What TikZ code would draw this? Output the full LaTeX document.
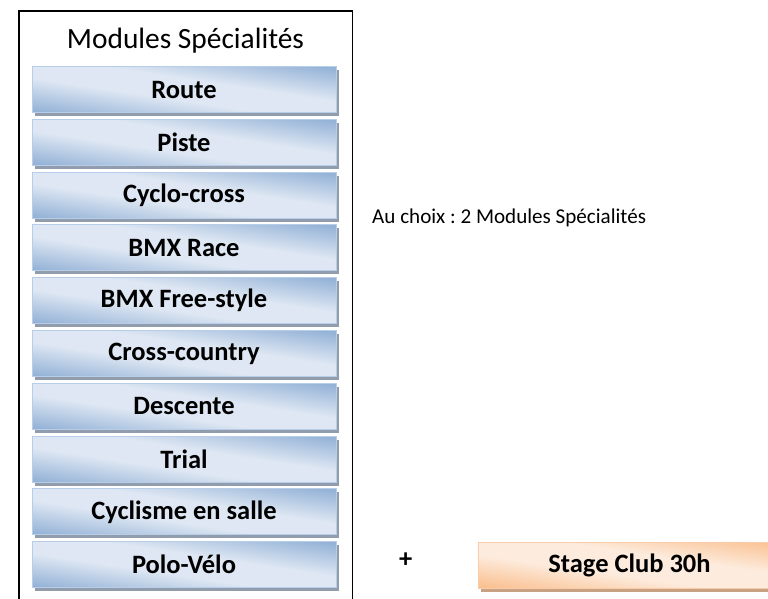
\documentclass[tikz,border=0pt]{standalone}
\usepackage{fontspec}
\setmainfont{Carlito}
\frenchspacing
\usetikzlibrary{shadows}
\definecolor{bdark}{RGB}{149,179,215}
\definecolor{blight}{RGB}{222,231,243}
\definecolor{bline}{RGB}{184,205,232}
\definecolor{bshadow}{RGB}{145,156,172}
\definecolor{odark}{RGB}{250,192,144}
\definecolor{olight}{RGB}{253,236,222}
\definecolor{oline}{RGB}{250,205,170}
\definecolor{oshadow}{RGB}{200,160,130}
\pgfdeclareverticalshading{bluediag}{100bp}{color(0bp)=(bdark); color(23bp)=(bdark); color(43bp)=(blight); color(57bp)=(blight); color(77bp)=(bdark); color(100bp)=(bdark)}
\pgfdeclareverticalshading{orangediag}{100bp}{color(0bp)=(odark); color(23bp)=(odark); color(43bp)=(olight); color(57bp)=(olight); color(77bp)=(odark); color(100bp)=(odark)}
\tikzset{
  modbox/.style={draw=bline, line width=1pt, minimum width=304pt, minimum height=46pt,
    inner sep=0pt, shading=bluediag, shading angle=-8.6,
    drop shadow={shadow xshift=3pt, shadow yshift=-3.5pt, fill=bshadow, opacity=1},
    font=\fontsize{26.5}{30}\selectfont\bfseries},
  stagebox/.style={draw=oline, line width=1pt, minimum width=320pt, minimum height=46pt,
    inner sep=0pt, shading=orangediag, shading angle=-8.2,
    drop shadow={shadow xshift=3pt, shadow yshift=-3.5pt, fill=oshadow, opacity=1}},
  lbl/.style={font=\fontsize{26.5}{30}\selectfont\bfseries}
}
\begin{document}
\begin{tikzpicture}[x=1pt,y=-1pt]
\useasboundingbox (0,0) rectangle (768,598);
\clip (0,0) rectangle (768,598);
\fill[white] (0,0) rectangle (768,598);
\draw[line width=1.2pt] (19,610) -- (19,11) -- (352.5,11) -- (352.5,610);
\node[font=\fontsize{29.4}{32}\selectfont, anchor=base] (title) at (185.5,48.3) {Modules Spécialités};
\foreach \t [count=\i from 0] in {Route,Piste,Cyclo-cross,BMX Race,BMX Free-style,Cross-country,Descente,Trial,Cyclisme en salle,Polo-Vélo}{
  \node[modbox] (m\i) at (184,{89.5+52.8*\i}) {\t};
}
\node[font=\fontsize{21.1}{24}\selectfont, anchor=base west, inner sep=0pt] (choix) at (372,223.3) {Au choix : 2 Modules Spécialités};
\node[lbl] (plus) at (405.7,560) {+};
\node[stagebox] (stage) at (638,565.5) {};
\node[lbl] (stagetxt) at (629.5,565.5) {Stage Club 30h};
\end{tikzpicture}
\end{document}
